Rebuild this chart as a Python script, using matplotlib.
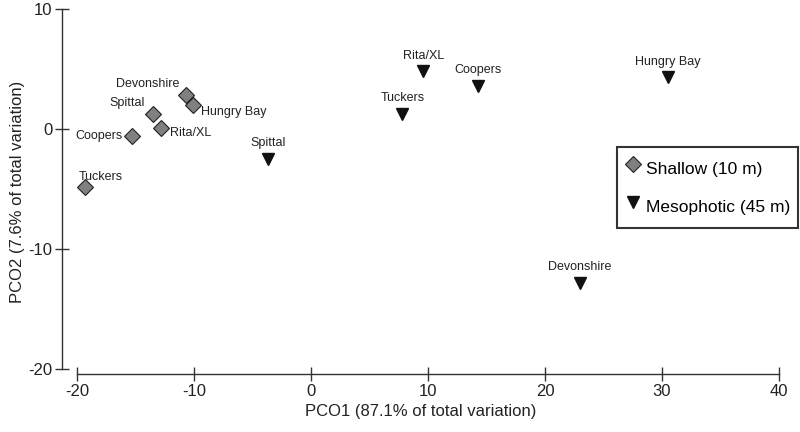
import matplotlib
matplotlib.use("Agg")
import matplotlib.pyplot as plt

plt.rcParams['font.family'] = ['Liberation Sans', 'DejaVu Sans']
plt.rcParams['axes.unicode_minus'] = False

# Shallow (10 m) sites
shallow_sites = ["Tuckers", "Coopers", "Spittal", "Rita/XL", "Devonshire", "Hungry Bay"]
shallow_x = [-19.3, -15.3, -13.5, -12.8, -10.7, -10.1]
shallow_y = [-4.8, -0.6, 1.3, 0.1, 2.8, 2.0]

# Mesophotic (45 m) sites
meso_sites = ["Spittal", "Tuckers", "Rita/XL", "Coopers", "Devonshire", "Hungry Bay"]
meso_x = [-3.7, 7.8, 9.6, 14.3, 23.0, 30.5]
meso_y = [-2.5, 1.3, 4.8, 3.6, -12.8, 4.3]

# label offsets (points) for the shallow labels
shallow_offsets = [(-5, 3), (-7, 0), (-6, 3), (6, -4), (-5, 4), (6, -5)]
shallow_align = [("left", "bottom"), ("right", "center"), ("right", "bottom"),
                 ("left", "center"), ("right", "bottom"), ("left", "center")]

fig = plt.figure(figsize=(8, 4.32), dpi=100)
ax = fig.add_axes([0.0775, 0.1343, 0.8962, 0.8447])

ax.plot(shallow_x, shallow_y, linestyle="none", marker="D", markersize=8.5,
        markerfacecolor="#808080", markeredgecolor="#222222", markeredgewidth=0.8,
        label="Shallow (10 m)")
ax.plot(meso_x, meso_y, linestyle="none", marker="v", markersize=9,
        markerfacecolor="#111111", markeredgecolor="#111111",
        label="Mesophotic (45 m)")

for name, x, y, off, (ha, va) in zip(shallow_sites, shallow_x, shallow_y, shallow_offsets, shallow_align):
    ax.annotate(name, (x, y), xytext=off, textcoords="offset points",
                ha=ha, va=va, fontsize=9, color="#222222")

for name, x, y in zip(meso_sites, meso_x, meso_y):
    ax.annotate(name, (x, y), xytext=(0, 7), textcoords="offset points",
                ha="center", va="bottom", fontsize=9, color="#222222")

ax.set_xlim(-21.3, 40)
ax.set_ylim(-20.4, 10)
ax.set_xticks([-20, -10, 0, 10, 20, 30, 40])
ax.set_yticks([-20, -10, 0, 10])

for side in ["top", "right"]:
    ax.spines[side].set_visible(False)
ax.spines["left"].set_bounds(-20, 10)
ax.spines["bottom"].set_bounds(-20, 40)
for side in ["left", "bottom"]:
    ax.spines[side].set_color("#333333")
    ax.spines[side].set_linewidth(1.0)

ax.tick_params(direction="inout", length=10, width=1.0, color="#333333",
               labelsize=12, labelcolor="#222222", pad=2)

ax.set_xlabel("PCO1 (87.1% of total variation)", fontsize=12, color="#222222", labelpad=4)
ax.set_ylabel("PCO2 (7.6% of total variation)", fontsize=12, color="#222222", labelpad=2)

leg = ax.legend(loc="upper left", bbox_to_anchor=(0.774, 0.622), fontsize=12.5,
                frameon=True, fancybox=False, edgecolor="black", handletextpad=0.3,
                borderpad=0.4, labelspacing=0.5, handlelength=1.0, handleheight=2.2,
                borderaxespad=0)
leg.get_frame().set_linewidth(1.5)

fig.savefig("out.png", dpi=100)
